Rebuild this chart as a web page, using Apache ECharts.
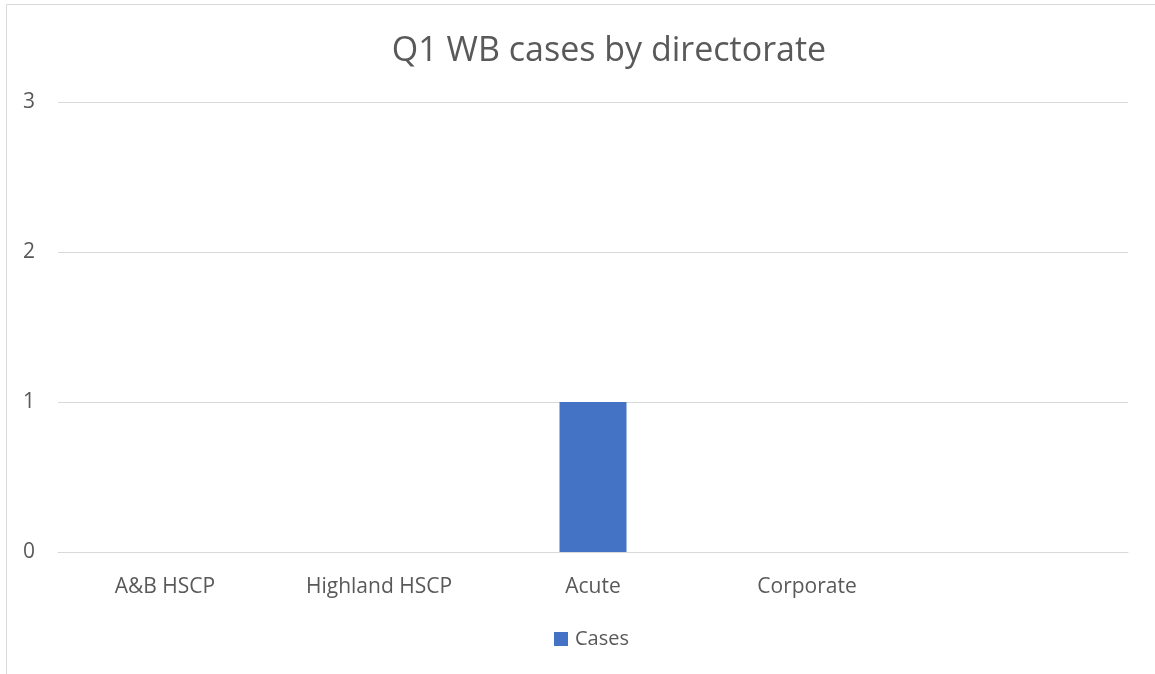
<!DOCTYPE html>
<html>
<head>
<meta charset="utf-8">
<script src="https://cdn.jsdelivr.net/npm/echarts@6/dist/echarts.min.js"></script>
<style>
  html, body { margin: 0; padding: 0; background: #fff; }
  #myChart { width: 1155px; height: 674px; }
</style>
</head>
<body>
<div id="myChart"></div>
<script>
// chart data
var categories = ['A&B HSCP', 'Highland HSCP', 'Acute', 'Corporate', '']
var cases = [0, 0, 1, 0, null]
var yTicks = [0, 1, 2, 3]

var myChart = echarts.init(document.getElementById('myChart'))

var option = {
  animation: false,
  textStyle: { fontFamily: 'Open Sans' },
  title: {
    text: 'Q1 WB cases by directorate',
    left: 604,
    top: 29,
    textAlign: 'center',
    textStyle: { color: '#595959', fontSize: 34, fontWeight: 'normal', fontFamily: 'Open Sans' }
  },
  // outer chart-area border (cropped on right/bottom in the original)
  graphic: [{
    type: 'rect',
    shape: { x: 6.5, y: 4.5, width: 1400, height: 900 },
    style: { fill: 'none', stroke: '#d9d9d9', lineWidth: 1 },
    silent: true
  }],
  legend: {
    data: ['Cases'],
    left: 549,
    top: 624,
    itemWidth: 14,
    itemHeight: 14,
    itemGap: 7,
    icon: 'rect',
    textStyle: { color: '#595959', fontSize: 20, padding: [0, 0, 0, 2] }
  },
  grid: { left: 58, right: 27, top: 102, bottom: 122 },
  xAxis: {
    type: 'category',
    data: categories,
    axisLine: { lineStyle: { color: '#d9d9d9' } },
    axisTick: { show: false },
    axisLabel: { color: '#595959', fontSize: 21, margin: 25 }
  },
  yAxis: {
    type: 'value',
    min: yTicks[0],
    max: yTicks[yTicks.length - 1],
    interval: 1,
    axisLine: { show: false },
    axisTick: { show: false },
    axisLabel: { color: '#595959', fontSize: 21, margin: 23 },
    splitLine: { lineStyle: { color: '#d9d9d9', width: 1 } }
  },
  series: [{
    name: 'Cases',
    type: 'bar',
    data: cases,
    barWidth: 67,
    itemStyle: { color: '#4472c4' }
  }]
}

myChart.setOption(option)
</script>
</body>
</html>
